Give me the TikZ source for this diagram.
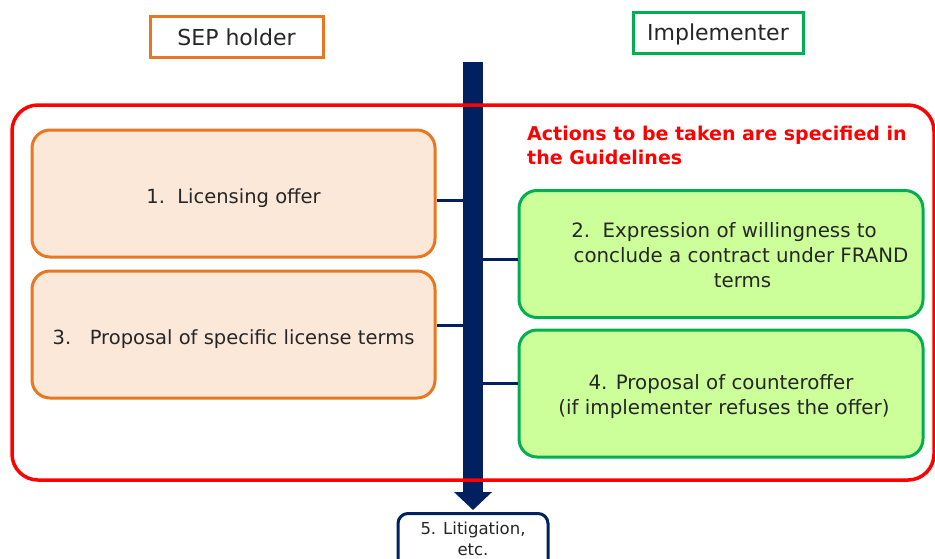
\documentclass[tikz,border=0pt]{standalone}
\usepackage{fontspec}
\setmainfont{DejaVu Sans}
\usetikzlibrary{arrows.meta}
\definecolor{navy}{HTML}{002060}
\definecolor{orng}{HTML}{E87722}
\definecolor{peach}{HTML}{FCE8D9}
\definecolor{grn}{HTML}{00B050}
\definecolor{lime}{HTML}{CCFF99}
\definecolor{txt}{HTML}{262626}
\newcommand{\lowr}[2]{\raisebox{-#1}[\height][\depth]{#2}}
\newcommand{\lines}[2]{\lowr{#1}{\begin{tabular}{@{}c@{}}#2\end{tabular}}}
\tikzset{
  hdr/.style={draw, line width=3pt, fill=white, inner sep=0pt, text=txt, font=\fontsize{22}{24}\selectfont},
  obox/.style={draw=orng, fill=peach, line width=3pt, rounded corners=18pt, minimum width=403pt, minimum height=127pt, inner sep=0pt, text=txt, font=\fontsize{19.5}{25}\selectfont, align=center},
  gbox/.style={draw=grn, fill=lime, line width=3pt, rounded corners=18pt, minimum width=404pt, minimum height=127pt, inner sep=0pt, text=txt, font=\fontsize{19.8}{25}\selectfont, align=center},
  conn/.style={draw=navy, line width=3pt},
  bar/.style={draw=navy, line width=20pt, -{Triangle[width=37pt,length=18pt]}},
}
\begin{document}
\begin{tikzpicture}[x=1pt,y=-1pt]
\useasboundingbox (0,0) rectangle (935,558);
\fill[white] (0,0) rectangle (935,558);
% headers
\node[hdr, draw=orng, minimum width=173pt, minimum height=41pt] (sep) at (236.5,36.5) {\lowr{1pt}{SEP holder}};
\node[hdr, draw=grn, minimum width=170pt, minimum height=41pt] (imp) at (718,32.5) {\lowr{2pt}{Implementer}};
% litigation box
\node[draw=navy, line width=3pt, fill=white, rounded corners=10pt, minimum width=150pt, minimum height=60pt, inner sep=0pt, anchor=north, text=txt, align=center] (lit) at (473,512) {};
\node[text=txt, align=center, font=\fontsize{16.5}{21}\selectfont, inner sep=0pt] (littext) at (473,539) {5. Litigation,\\etc.};
% bar
\coordinate (top) at (473,62);
\coordinate (tip) at (473,510);
\draw[bar] (top) -- (tip);
% red frame
\draw[red, line width=3.5pt, rounded corners=26pt] (12,105) rectangle (934,480);
% boxes
\node[obox] (b1) at (233.5,193.5) {\lowr{4.5pt}{1.\ \ Licensing offer}};
\node[obox] (b3) at (233.5,334.5) {\lowr{4.5pt}{3.\ \ \ Proposal of specific license terms}};
\node[gbox] (b2) at (721,254) {\lines{3pt}{\hspace{6pt}2.\ \ Expression of willingness to\\\hspace{40pt}conclude a contract under FRAND\\\hspace{43pt}terms}};
\node[gbox] (b4) at (721,393.5) {\lines{3.5pt}{4. Proposal of counteroffer\\\hspace{6pt}(if implementer refuses the offer)}};
% red text
\node[anchor=north west, text=red, align=left, font=\bfseries\fontsize{19}{24}\selectfont, inner sep=0pt] (note) at (527,126) {Actions to be taken are specified in\\the Guidelines};
% connectors
\coordinate (c1) at (463,200);
\coordinate (c3) at (463,325);
\coordinate (c2) at (483,259);
\coordinate (c4) at (483,383);
\draw[conn] (b1.east |- c1) -- (c1);
\draw[conn] (b3.east |- c3) -- (c3);
\draw[conn] (c2) -- (b2.west |- c2);
\draw[conn] (c4) -- (b4.west |- c4);
\end{tikzpicture}
\end{document}
